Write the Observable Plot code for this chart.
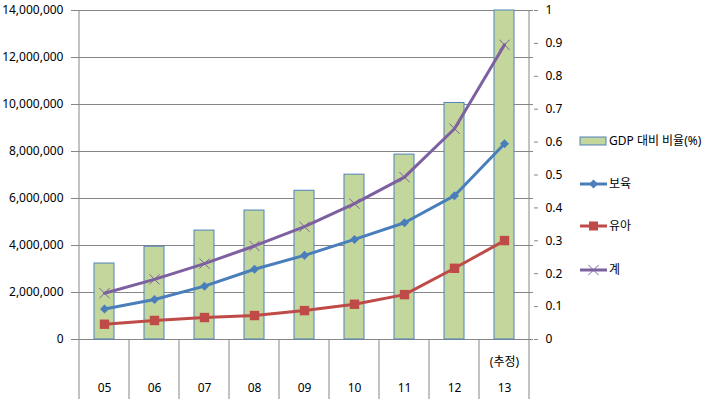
<!DOCTYPE html>
<html><head><meta charset="utf-8">
<script src="https://cdn.jsdelivr.net/npm/d3@7"></script>
<script src="https://cdn.jsdelivr.net/npm/@observablehq/plot@0.6"></script>
<style>html,body{margin:0;padding:0;background:#fff;}</style>
</head><body><div id="chart"></div>
<script>
const years = ["05","06","07","08","09","10","11","12","13"];
const gdpRatio = [0.231,0.282,0.331,0.392,0.452,0.501,0.562,0.719,1.0];
const boyuk = [1300000,1700000,2270000,2990000,3580000,4260000,4970000,6120000,8330000];
const yua = [650000,810000,935000,1020000,1230000,1500000,1910000,3030000,4210000];
const total = [1970000,2560000,3230000,3980000,4800000,5780000,6910000,8970000,12540000];
const leftTicks = [0,2000000,4000000,6000000,8000000,10000000,12000000,14000000];
const rightTicks = [0,0.1,0.2,0.3,0.4,0.5,0.6,0.7,0.8,0.9,1];
const seriesNames = ["GDP 대비 비율(%)","보육","유아","계"];
const noteLabel = {year:"13", text:"(추정)"};

const LMAX = 14000000; // left axis max; right axis max is 1
const colors = {bar:"#C3D69B", barStroke:"#4F81BD", boyuk:"#4A7EBB", yua:"#BE4B48", total:"#7D60A0", grid:"#868686"};

const diamond = {draw(ctx, size){ const r = Math.sqrt(size/2); ctx.moveTo(0,-r); ctx.lineTo(r,0); ctx.lineTo(0,r); ctx.lineTo(-r,0); ctx.closePath(); }};

const rows = years.map((y,i)=>({year:y, ratio:gdpRatio[i], boyuk:boyuk[i], yua:yua[i], total:total[i]}));

function extras(index, scales, values, dims) {
  const x = scales.x, y = scales.y;
  const g = d3.create("svg:g");
  const bottom = dims.height - 2;
  const bw = x.bandwidth();
  const bounds = years.map(c => x(c)).concat([x(years[years.length-1]) + bw]);
  bounds.forEach((bx, i) => {
    const full = (i === 0 || i === bounds.length - 1);
    g.append("line").attr("x1", bx).attr("x2", bx)
      .attr("y1", full ? y(LMAX) : y(0)).attr("y2", bottom)
      .attr("stroke", colors.grid).attr("stroke-width", 1);
  });
  // legend
  const lx = 580, lw = 27, tx = 609;
  const ly = [141, 184, 226, 270];
  const lg = g.append("g").attr("font-size", 12).attr("fill", "#000").attr("text-anchor", "start");
  lg.append("rect").attr("x", lx).attr("y", ly[0]-4).attr("width", 26).attr("height", 8)
    .attr("fill", colors.bar).attr("stroke", colors.barStroke);
  const lineCols = [null, colors.boyuk, colors.yua, colors.total];
  for (let i = 1; i < 4; i++) {
    lg.append("line").attr("x1", lx).attr("x2", lx+lw).attr("y1", ly[i]).attr("y2", ly[i])
      .attr("stroke", lineCols[i]).attr("stroke-width", 3);
  }
  const cx = lx + lw/2;
  lg.append("path").attr("transform", `translate(${cx},${ly[1]})`).attr("d", d3.symbol(diamond, 40)()).attr("fill", colors.boyuk);
  lg.append("rect").attr("x", cx-4.5).attr("y", ly[2]-4.5).attr("width", 9).attr("height", 9).attr("fill", colors.yua);
  lg.append("path").attr("transform", `translate(${cx},${ly[3]})`).attr("d", d3.symbol(d3.symbolTimes, 70)()).attr("fill", "none").attr("stroke", colors.total).attr("stroke-width", 1);
  seriesNames.forEach((s, i) => {
    lg.append("text").attr("x", tx).attr("y", ly[i]).attr("dy", "0.35em").attr("text-anchor", "start").text(s);
  });
  return g.node();
}

const chart = Plot.plot({
  width: 710, height: 401,
  marginLeft: 75, marginRight: 177, marginTop: 10, marginBottom: 62,
  style: {fontFamily: "'Noto Sans','Noto Sans CJK KR',sans-serif", fontSize: "12px", color: "#000", background: "#fff"},
  x: {domain: years, padding: 0, label: null},
  y: {domain: [0, LMAX], nice: false, label: null},
  marks: [
    Plot.ruleY(leftTicks, {stroke: colors.grid, strokeWidth: 1}),
    Plot.barY(rows, {x: "year", y: d => d.ratio * LMAX, fill: colors.bar, stroke: colors.barStroke, strokeWidth: 1, insetLeft: 15, insetRight: 15}),
    Plot.lineY(rows, {x: "year", y: "total", stroke: colors.total, strokeWidth: 3}),
    Plot.lineY(rows, {x: "year", y: "boyuk", stroke: colors.boyuk, strokeWidth: 3}),
    Plot.lineY(rows, {x: "year", y: "yua", stroke: colors.yua, strokeWidth: 3}),
    Plot.dot(rows, {x: "year", y: "total", symbol: "times", r: 4.7, stroke: colors.total, strokeWidth: 1}),
    Plot.dot(rows, {x: "year", y: "boyuk", symbol: diamond, r: 3.6, fill: colors.boyuk, stroke: "none"}),
    Plot.dot(rows, {x: "year", y: "yua", symbol: "square", r: 5.3, fill: colors.yua, stroke: "none"}),
    Plot.axisY({anchor: "left", ticks: leftTicks, tickSize: 4, tickPadding: 8, stroke: colors.grid, tickFormat: d3.format(","), label: null}),
    Plot.axisY({anchor: "right", ticks: rightTicks.map(t => t * LMAX), tickSize: 4, tickPadding: 8, stroke: colors.grid, tickFormat: d => String(+(d / LMAX).toFixed(1)), label: null}),
    Plot.axisX({tickSize: 0, tickPadding: 44, label: null}),
    Plot.text([noteLabel], {x: "year", y: () => 0, text: "text", dy: 23, fill: "#000"}),
    extras
  ]
});
document.getElementById("chart").appendChild(chart);
</script></body></html>
